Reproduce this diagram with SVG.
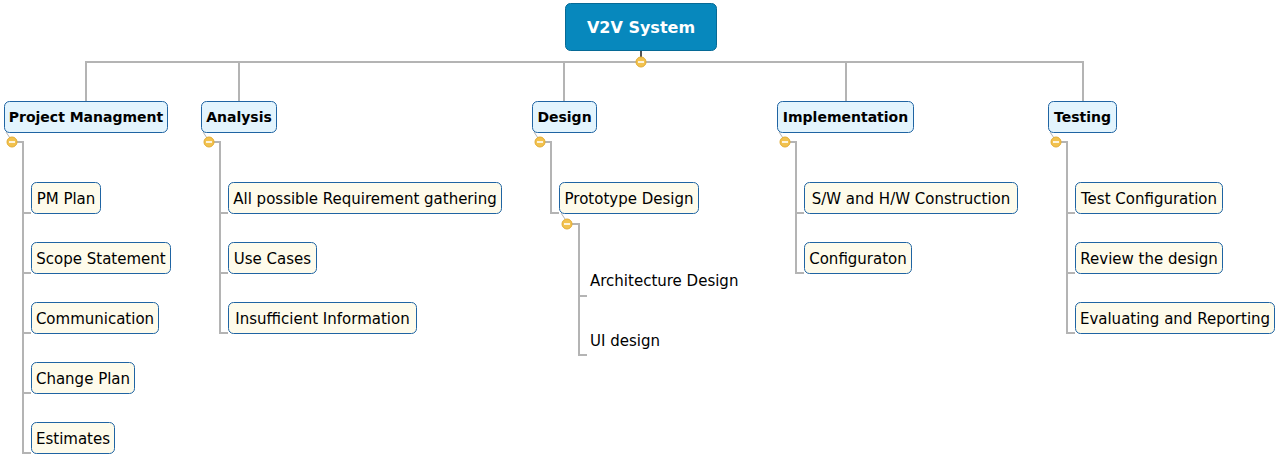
<svg xmlns="http://www.w3.org/2000/svg" width="1281" height="460" viewBox="0 0 1281 460">
  <style>
    .root rect { fill: #0788bd; stroke: #066a96; stroke-width: 1; }
    .root text { font-family: "DejaVu Sans", Verdana, sans-serif; font-weight: bold; font-size: 16px; fill: #ffffff; text-anchor: middle; }
    .main rect { fill: #e3f4fd; stroke: #1f64a3; stroke-width: 1; }
    .main text { font-family: "DejaVu Sans", Verdana, sans-serif; font-weight: bold; font-size: 14px; fill: #000000; text-anchor: middle; }
    .leaf rect { fill: #fefbeb; stroke: #1f64a3; stroke-width: 1; }
    .leaf text, .plain text { font-family: "DejaVu Sans", Verdana, sans-serif; font-size: 15px; fill: #000000; }
    .leaf text { text-anchor: middle; }
    .link { fill: none; stroke: #b4b4b4; stroke-width: 2; }
    .stub { fill: none; stroke: #b4b4b4; stroke-width: 1; }
    .toggle circle { fill: #f2c24e; stroke: #e3ac33; stroke-width: 1; }
    .toggle line { stroke: #ffffff; stroke-width: 1.6; }
  </style>
  <defs>
    <g id="minus" class="toggle">
      <circle cx="0" cy="0" r="5"/>
      <line x1="-3" y1="0" x2="3" y2="0"/>
    </g>
  </defs>

  <!-- connectors -->
  <g id="connectors">
    <line x1="641" y1="50" x2="641" y2="57" stroke="#555555" stroke-width="2"/>
    <path class="link" d="M86 101 V62 H1083 V101 M239 62 V101 M564 62 V101 M846 62 V101"/>

    <!-- Project Managment -->
    <line class="stub" x1="6" y1="132" x2="10" y2="138"/>
    <path class="link" d="M17 142 H23 V454 M23 213 H31 M23 273 H31 M23 333 H31 M23 393 H31 M23 453 H31"/>

    <!-- Analysis -->
    <line class="stub" x1="203" y1="132" x2="207" y2="138"/>
    <path class="link" d="M214 142 H220 V334 M220 213 H228 M220 273 H228 M220 333 H228"/>

    <!-- Design -->
    <line class="stub" x1="534" y1="132" x2="538" y2="138"/>
    <path class="link" d="M545 142 H551 V214 M551 213 H559"/>
    <line class="stub" x1="561" y1="213" x2="565" y2="219"/>
    <path class="link" d="M572 224 H579 V356 M579 296 H587 M579 355 H587"/>

    <!-- Implementation -->
    <line class="stub" x1="779" y1="132" x2="783" y2="138"/>
    <path class="link" d="M790 142 H796 V274 M796 213 H804 M796 273 H804"/>

    <!-- Testing -->
    <line class="stub" x1="1050" y1="132" x2="1054" y2="138"/>
    <path class="link" d="M1061 142 H1067 V334 M1067 213 H1075 M1067 273 H1075 M1067 333 H1075"/>

    <use href="#minus" x="641" y="62"/>
    <use href="#minus" x="12" y="142"/>
    <use href="#minus" x="209" y="142"/>
    <use href="#minus" x="540" y="142"/>
    <use href="#minus" x="567" y="224"/>
    <use href="#minus" x="785" y="142"/>
    <use href="#minus" x="1056" y="142"/>
  </g>

  <!-- root -->
  <g id="v2v-system" class="root">
    <rect x="565.5" y="3.5" width="151" height="47" rx="5"/>
    <text x="641" y="33">V2V System</text>
  </g>

  <!-- main branches -->
  <g id="project-managment" class="main">
    <rect x="4.5" y="101.5" width="163" height="31" rx="5"/>
    <text x="86" y="122">Project Managment</text>
  </g>
  <g id="analysis" class="main">
    <rect x="201.5" y="101.5" width="75" height="31" rx="5"/>
    <text x="239" y="122">Analysis</text>
  </g>
  <g id="design" class="main">
    <rect x="532.5" y="101.5" width="64" height="31" rx="5"/>
    <text x="564.5" y="122">Design</text>
  </g>
  <g id="implementation" class="main">
    <rect x="777.5" y="101.5" width="136" height="31" rx="5"/>
    <text x="845.5" y="122">Implementation</text>
  </g>
  <g id="testing" class="main">
    <rect x="1048.5" y="101.5" width="68" height="31" rx="5"/>
    <text x="1082.5" y="122">Testing</text>
  </g>

  <!-- Project Managment items -->
  <g id="pm-plan" class="leaf">
    <rect x="31.5" y="182.5" width="69" height="31" rx="5"/>
    <text x="66" y="203.5">PM Plan</text>
  </g>
  <g id="scope-statement" class="leaf">
    <rect x="31.5" y="242.5" width="139" height="31" rx="5"/>
    <text x="101" y="263.5">Scope Statement</text>
  </g>
  <g id="communication" class="leaf">
    <rect x="31.5" y="302.5" width="127" height="31" rx="5"/>
    <text x="95" y="323.5">Communication</text>
  </g>
  <g id="change-plan" class="leaf">
    <rect x="31.5" y="362.5" width="103" height="31" rx="5"/>
    <text x="83" y="383.5">Change Plan</text>
  </g>
  <g id="estimates" class="leaf">
    <rect x="31.5" y="422.5" width="83" height="31" rx="5"/>
    <text x="73" y="443.5">Estimates</text>
  </g>

  <!-- Analysis items -->
  <g id="requirement-gathering" class="leaf">
    <rect x="228.5" y="182.5" width="273" height="31" rx="5"/>
    <text x="365" y="203.5">All possible Requirement gathering</text>
  </g>
  <g id="use-cases" class="leaf">
    <rect x="228.5" y="242.5" width="88" height="31" rx="5"/>
    <text x="272.5" y="263.5">Use Cases</text>
  </g>
  <g id="insufficient-information" class="leaf">
    <rect x="228.5" y="302.5" width="188" height="31" rx="5"/>
    <text x="322.5" y="323.5">Insufficient Information</text>
  </g>

  <!-- Design items -->
  <g id="prototype-design" class="leaf">
    <rect x="559.5" y="182.5" width="139" height="31" rx="5"/>
    <text x="629" y="203.5">Prototype Design</text>
  </g>
  <g id="architecture-design" class="plain">
    <text x="590" y="286">Architecture Design</text>
  </g>
  <g id="ui-design" class="plain">
    <text x="590" y="346">UI design</text>
  </g>

  <!-- Implementation items -->
  <g id="sw-hw-construction" class="leaf">
    <rect x="804.5" y="182.5" width="213" height="31" rx="5"/>
    <text x="911" y="203.5">S/W and H/W Construction</text>
  </g>
  <g id="configuraton" class="leaf">
    <rect x="804.5" y="242.5" width="107" height="31" rx="5"/>
    <text x="858" y="263.5">Configuraton</text>
  </g>

  <!-- Testing items -->
  <g id="test-configuration" class="leaf">
    <rect x="1075.5" y="182.5" width="147" height="31" rx="5"/>
    <text x="1149" y="203.5">Test Configuration</text>
  </g>
  <g id="review-the-design" class="leaf">
    <rect x="1075.5" y="242.5" width="147" height="31" rx="5"/>
    <text x="1149" y="263.5">Review the design</text>
  </g>
  <g id="evaluating-reporting" class="leaf">
    <rect x="1075.5" y="302.5" width="199" height="31" rx="5"/>
    <text x="1175" y="323.5">Evaluating and Reporting</text>
  </g>
</svg>
